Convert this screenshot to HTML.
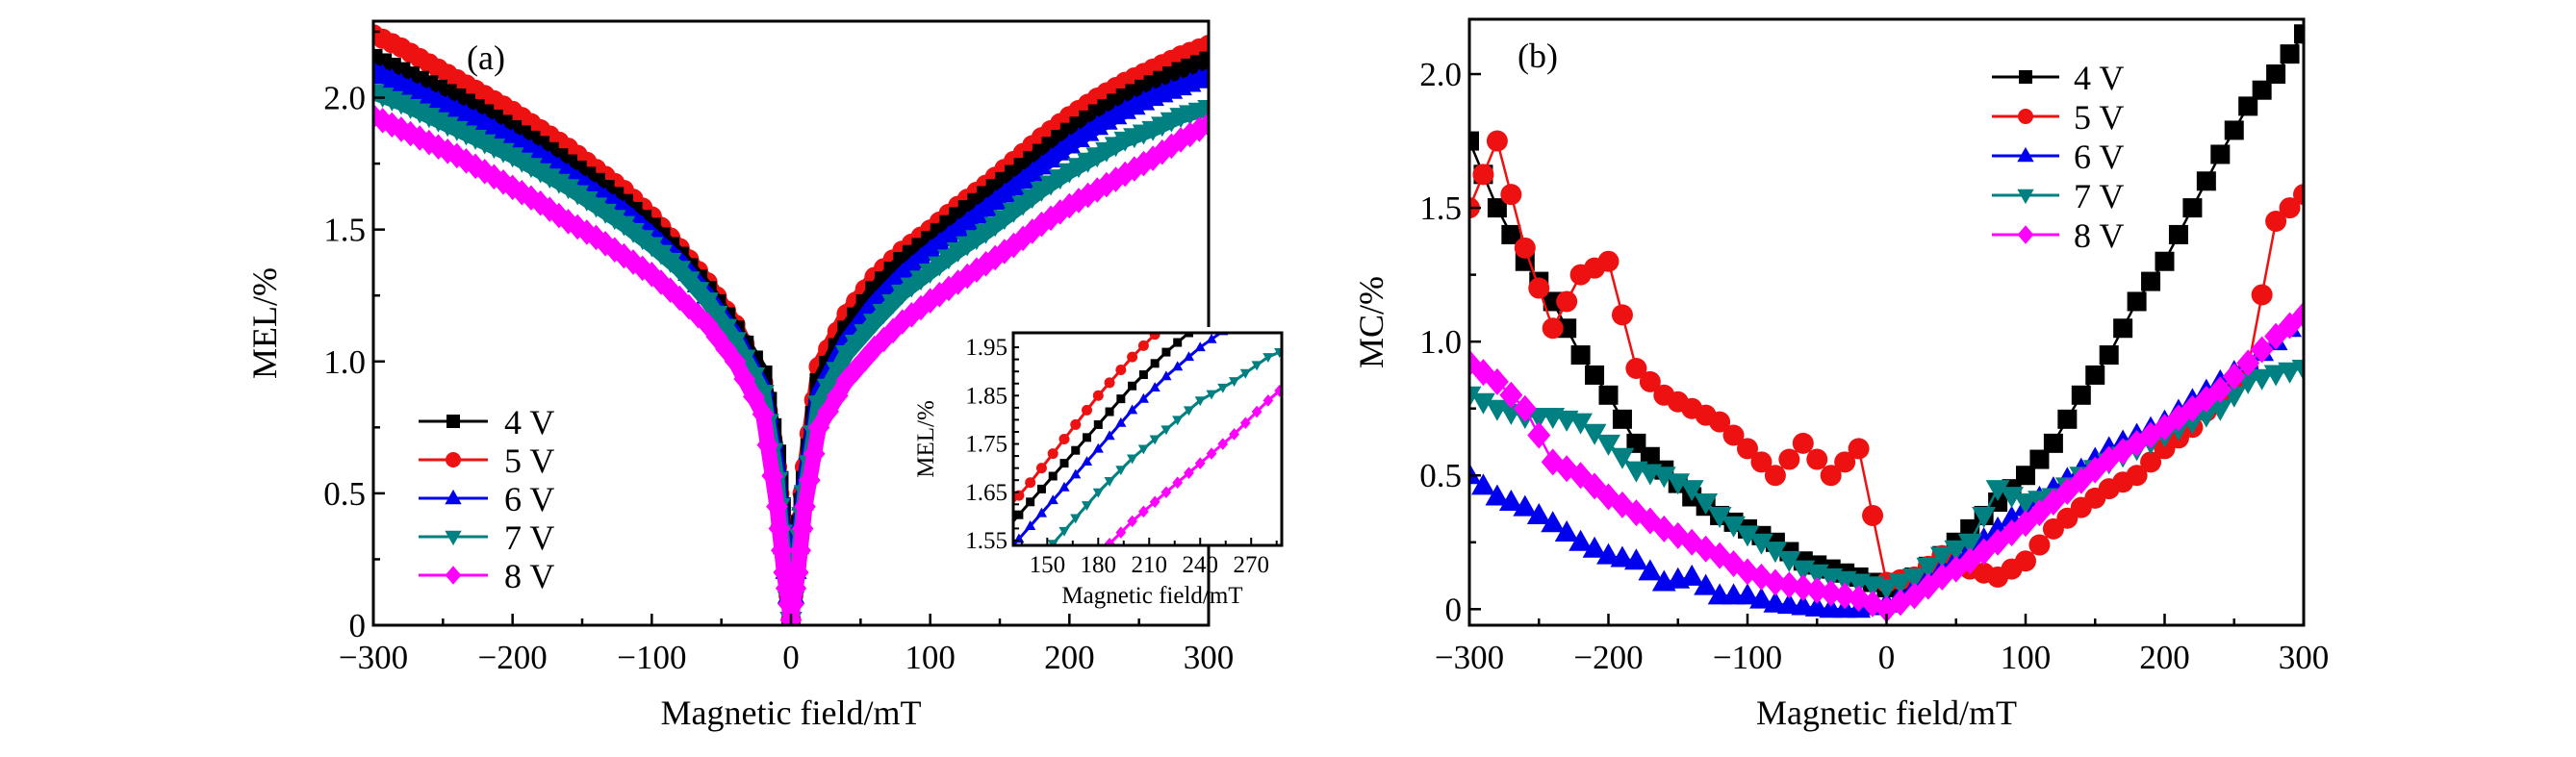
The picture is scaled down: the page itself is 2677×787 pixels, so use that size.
<!DOCTYPE html>
<html><head><meta charset="utf-8">
<style>
html,body{margin:0;padding:0;background:#fff;width:2677px;height:787px;overflow:hidden;}
svg{display:block;overflow:hidden;font-family:"Liberation Serif","DejaVu Serif",serif;}
</style></head>
<body>
<svg id="fig" width="2677" height="787" viewBox="0 0 2677 787" xmlns="http://www.w3.org/2000/svg"></svg>
<script>
// ---- Data ----
const xA = [-300,-280,-260,-240,-220,-200,-180,-160,-140,-120,-100,-80,-60,-40,-20,-10,-5,0,5,10,20,40,60,80,100,120,140,160,180,200,220,240,260,280,300];
const melV4 = [2.15,2.10,2.05,2.00,1.94,1.88,1.82,1.75,1.68,1.60,1.51,1.40,1.27,1.12,0.95,0.65,0.35,0.02,0.3,0.55,0.92,1.12,1.27,1.38,1.46,1.55,1.63,1.71,1.79,1.87,1.94,2.00,2.05,2.10,2.14];
const melV5 = [2.24,2.19,2.13,2.07,2.01,1.95,1.88,1.81,1.73,1.65,1.55,1.43,1.30,1.14,0.92,0.6,0.3,0.02,0.3,0.6,0.98,1.18,1.32,1.42,1.50,1.59,1.67,1.76,1.85,1.93,2.00,2.06,2.11,2.16,2.20];
const melV6 = [2.10,2.05,2.00,1.95,1.90,1.84,1.78,1.71,1.64,1.57,1.48,1.38,1.25,1.10,0.9,0.6,0.3,0.02,0.3,0.55,0.88,1.08,1.22,1.33,1.42,1.50,1.58,1.66,1.74,1.82,1.89,1.95,2.00,2.04,2.08];
const melV7 = [2.02,1.98,1.93,1.88,1.83,1.78,1.72,1.66,1.59,1.52,1.44,1.35,1.23,1.08,0.88,0.55,0.25,0.02,0.25,0.5,0.84,1.03,1.15,1.26,1.34,1.42,1.49,1.57,1.65,1.72,1.78,1.84,1.88,1.93,1.96];
const melV8 = [1.93,1.88,1.83,1.78,1.72,1.66,1.60,1.53,1.47,1.40,1.33,1.24,1.14,1.00,0.8,0.45,0.2,0.02,0.2,0.45,0.75,0.93,1.05,1.15,1.23,1.30,1.37,1.44,1.52,1.59,1.65,1.71,1.77,1.84,1.90];

const xB = [-300,-280,-260,-240,-220,-200,-180,-160,-140,-120,-100,-80,-60,-40,-20,0,20,40,60,80,100,120,140,160,180,200,220,240,260,280,300];
const mcV4 = [1.75,1.5,1.3,1.15,0.95,0.8,0.62,0.52,0.42,0.35,0.3,0.25,0.18,0.15,0.12,0.08,0.12,0.2,0.3,0.4,0.5,0.62,0.8,0.95,1.15,1.3,1.5,1.7,1.88,2.0,2.15];
const mcV5 = [1.5,1.75,1.35,1.05,1.25,1.3,0.9,0.8,0.75,0.7,0.6,0.5,0.62,0.5,0.6,0.1,0.12,0.2,0.15,0.12,0.18,0.3,0.38,0.45,0.5,0.6,0.68,0.8,0.9,1.45,1.55];
const mcV6 = [0.5,0.42,0.38,0.32,0.25,0.2,0.18,0.1,0.12,0.05,0.05,0.02,0.01,0.0,0.0,0.02,0.08,0.15,0.22,0.3,0.38,0.45,0.52,0.6,0.65,0.7,0.78,0.85,0.92,1.0,1.1];
const mcV7 = [0.8,0.75,0.72,0.72,0.7,0.62,0.52,0.5,0.45,0.35,0.28,0.22,0.15,0.12,0.1,0.08,0.12,0.2,0.25,0.45,0.4,0.42,0.5,0.55,0.6,0.65,0.7,0.75,0.85,0.88,0.9];
const mcV8 = [0.92,0.85,0.75,0.55,0.5,0.42,0.36,0.3,0.25,0.2,0.14,0.1,0.08,0.06,0.04,0.0,0.05,0.12,0.18,0.25,0.32,0.4,0.48,0.56,0.62,0.68,0.75,0.82,0.92,1.02,1.1];

const seriesNames = ["4 V","5 V","6 V","7 V","8 V"];
const xTicks = [-300,-200,-100,0,100,200,300];
const xTickLabels = ["\u2212300","\u2212200","\u2212100","0","100","200","300"];
const yTicksA = [0,0.5,1.0,1.5,2.0];
const yTickLabelsA = ["0","0.5","1.0","1.5","2.0"];
const yTicksB = [0,0.5,1.0,1.5,2.0];
const yTickLabelsB = ["0","0.5","1.0","1.5","2.0"];
const insetXTicks = [150,180,210,240,270];
const insetYTicks = [1.55,1.65,1.75,1.85,1.95];
const insetYTickLabels = ["1.55","1.65","1.75","1.85","1.95"];

const colors = ["#000000","#ee1111","#0000ee","#008080","#ff00ff"];
const shapes = ["square","circle","tri-up","tri-down","diamond"];

const NS = "http://www.w3.org/2000/svg";
const svg = document.getElementById("fig");
function el(tag, attrs, parent){
  const e = document.createElementNS(NS, tag);
  for (const k in attrs) e.setAttribute(k, attrs[k]);
  (parent||svg).appendChild(e);
  return e;
}
function marker(g, shape, cx, cy, s, color){
  let m;
  if (shape==="square") m = el("rect",{x:cx-s/2,y:cy-s/2,width:s,height:s,fill:color},g);
  else if (shape==="circle") m = el("circle",{cx:cx,cy:cy,r:s/2+1,fill:color},g);
  else if (shape==="tri-up") m = el("polygon",{points:`${cx},${cy-s*0.65} ${cx-s*0.62},${cy+s*0.45} ${cx+s*0.62},${cy+s*0.45}`,fill:color},g);
  else if (shape==="tri-down") m = el("polygon",{points:`${cx},${cy+s*0.65} ${cx-s*0.62},${cy-s*0.45} ${cx+s*0.62},${cy-s*0.45}`,fill:color},g);
  else m = el("polygon",{points:`${cx},${cy-s*0.7} ${cx+s*0.6},${cy} ${cx},${cy+s*0.7} ${cx-s*0.6},${cy}`,fill:color},g);
  return m;
}
function makeAxes(L,R,T,B,xmin,xmax,ymin,ymax){
  return {
    sx: v => L + (v-xmin)/(xmax-xmin)*(R-L),
    sy: v => B - (v-ymin)/(ymax-ymin)*(B-T)
  };
}
function drawSeries(g, xs, ys, ax, color, shape, lw, ms, sub){
  const pts = xs.map((x,i)=>[ax.sx(x), ax.sy(ys[i])]);
  const line = el("polyline",{points:pts.map(p=>p.join(",")).join(" "),fill:"none",stroke:color,"stroke-width":lw,"stroke-linejoin":"round"},g);
  
  
  for (let i=0;i<pts.length;i++){
    const m = marker(g, shape, pts[i][0], pts[i][1], ms, color);
    
    
    if (i<pts.length-1){
      for (let k=1;k<sub;k++){
        const f=k/sub;
        const mx=pts[i][0]+(pts[i+1][0]-pts[i][0])*f, my=pts[i][1]+(pts[i+1][1]-pts[i][1])*f;
        const m2 = marker(g, shape, mx, my, ms, color);
        
        
      }
    }
  }
}

// ===== Panel A =====
(function(){
  const L=388,R=1256,T=22,B=650;
  const ax = makeAxes(L,R,T,B,-300,300,0,2.29);
  const g = el("g",{});
  
  
  const cpa=el("clipPath",{id:"clipA"},g);
  el("rect",{x:L,y:T,width:R-L,height:B-T},cpa);
  const dg = el("g",{"clip-path":"url(#clipA)"},g);
  
  
  const data=[melV4,melV5,melV6,melV7,melV8];
  [1,0,2,3,4].forEach(i=>drawSeries(dg,xA,data[i],ax,colors[i],shapes[i],16,19,3));
  const fr = el("rect",{x:L,y:T,width:R-L,height:B-T,fill:"none",stroke:"#000","stroke-width":3},g);
   
  for (let v=-300; v<=300; v+=50){
    const major = v%100===0;
    el("line",{x1:ax.sx(v),x2:ax.sx(v),y1:B,y2:B-(major?12:7),stroke:"#000","stroke-width":2.5},g);
  }
  xTicks.forEach((v,i)=>{
    const t=el("text",{x:ax.sx(v),y:695,"text-anchor":"middle","font-size":35},g);
    t.textContent=xTickLabels[i];
     
  });
  for (let v=0; v<=2.25; v+=0.25){
    const major = Math.abs(v*2-Math.round(v*2))<1e-6;
    el("line",{x1:L,x2:L+(major?12:7),y1:ax.sy(v),y2:ax.sy(v),stroke:"#000","stroke-width":2.5},g);
  }
  yTicksA.forEach((v,i)=>{
    const t=el("text",{x:L-8,y:ax.sy(v)+12,"text-anchor":"end","font-size":35},g);
    t.textContent=yTickLabelsA[i];
     
  });
  const xt=el("text",{x:(L+R)/2,y:753,"text-anchor":"middle","font-size":36},g);
  xt.textContent="Magnetic field/mT";  
  const yt=el("text",{x:0,y:0,"text-anchor":"middle","font-size":36,transform:`translate(287,${(T+B)/2}) rotate(-90)`},g);
  yt.textContent="MEL/%";  
  const pl=el("text",{x:485,y:72,"font-size":36},g);
  pl.textContent="(a)";  
  const lg=el("g",{},g);  
  seriesNames.forEach((n,i)=>{
    const y=438+i*40;
    const e=el("g",{},lg);  
    el("line",{x1:435,x2:507,y1:y,y2:y,stroke:colors[i],"stroke-width":3},e);
    marker(e,shapes[i],471,y,14,colors[i]);
    const t=el("text",{x:524,y:y+13,"font-size":36},e); t.textContent=n;
  });
  // inset
  const iL=1053,iR=1332,iT=346,iB=567;
  const ia = makeAxes(iL,iR,iT,iB,130,288,1.54,1.98);
  const ig=el("g",{},g);  
  el("rect",{x:iL-100,y:iT-6,width:iR-iL+110,height:iB-iT+75,fill:"#fff"},ig);
  const cp=el("clipPath",{id:"clipI"},ig);
  el("rect",{x:iL,y:iT,width:iR-iL,height:iB-iT},cp);
  const idg=el("g",{"clip-path":"url(#clipI)"},ig);
  [1,0,2,3,4].forEach(i=>drawSeries(idg,xA,data[i],ia,colors[i],shapes[i],3,9,3));
  el("rect",{x:iL,y:iT,width:iR-iL,height:iB-iT,fill:"none",stroke:"#000","stroke-width":3},ig);
  el("line",{x1:R,x2:R,y1:iB,y2:B,stroke:"#000","stroke-width":3},ig);
  for (let v=135; v<=285; v+=15){
    const major = (v-150)%30===0;
    el("line",{x1:ia.sx(v),x2:ia.sx(v),y1:iB,y2:iB-(major?8:5),stroke:"#000","stroke-width":2},ig);
  }
  insetXTicks.forEach(v=>{
    const t=el("text",{x:ia.sx(v),y:595,"text-anchor":"middle","font-size":25},ig); t.textContent=String(v);
     
  });
  for (let v=1.55; v<=1.96; v+=0.025){
    el("line",{x1:iL,x2:iL+6,y1:ia.sy(v),y2:ia.sy(v),stroke:"#000","stroke-width":2},ig);
  }
  insetYTicks.forEach((v,i)=>{
    const t=el("text",{x:iL-6,y:ia.sy(v)+8,"text-anchor":"end","font-size":25},ig); t.textContent=insetYTickLabels[i];
     
  });
  const ixt=el("text",{x:(iL+iR)/2+5,y:627,"text-anchor":"middle","font-size":25},ig);
  ixt.textContent="Magnetic field/mT";  
  const iyt=el("text",{x:0,y:0,"text-anchor":"middle","font-size":25,transform:`translate(970,${(iT+iB)/2}) rotate(-90)`},ig);
  iyt.textContent="MEL/%";  
})();

// ===== Panel B =====
(function(){
  const L=1527,R=2394,T=20,B=650;
  const ax = makeAxes(L,R,T,B,-300,300,-0.06,2.205);
  const g = el("g",{});
  
  
  const cp=el("clipPath",{id:"clipB"},g);
  el("rect",{x:L,y:T,width:R-L,height:B-T},cp);
  const dg = el("g",{"clip-path":"url(#clipB)"},g);
  
  
  const data=[mcV4,mcV5,mcV6,mcV7,mcV8];
  [0,1,2,3,4].forEach(i=>drawSeries(dg,xB,data[i],ax,colors[i],shapes[i],2.5,20,2));
  const fr=el("rect",{x:L,y:T,width:R-L,height:B-T,fill:"none",stroke:"#000","stroke-width":3},g);
   
  for (let v=-300; v<=300; v+=50){
    const major = v%100===0;
    el("line",{x1:ax.sx(v),x2:ax.sx(v),y1:B,y2:B-(major?12:7),stroke:"#000","stroke-width":2.5},g);
  }
  xTicks.forEach((v,i)=>{
    const t=el("text",{x:ax.sx(v),y:695,"text-anchor":"middle","font-size":35},g);
    t.textContent=xTickLabels[i];
     
  });
  for (let v=0; v<=2.01; v+=0.25){
    const major = Math.abs(v*2-Math.round(v*2))<1e-6;
    el("line",{x1:L,x2:L+(major?12:7),y1:ax.sy(v),y2:ax.sy(v),stroke:"#000","stroke-width":2.5},g);
  }
  yTicksB.forEach((v,i)=>{
    const t=el("text",{x:L-8,y:ax.sy(v)+12,"text-anchor":"end","font-size":35},g);
    t.textContent=yTickLabelsB[i];
     
  });
  const xt=el("text",{x:(L+R)/2,y:753,"text-anchor":"middle","font-size":36},g);
  xt.textContent="Magnetic field/mT";  
  const yt=el("text",{x:0,y:0,"text-anchor":"middle","font-size":36,transform:`translate(1437,${(T+B)/2}) rotate(-90)`},g);
  yt.textContent="MC/%";  
  const pl=el("text",{x:1577,y:70,"font-size":36},g);
  pl.textContent="(b)";  
  const lg=el("g",{},g);  
  seriesNames.forEach((n,i)=>{
    const y=80+i*41;
    const e=el("g",{},lg);  
    el("line",{x1:2070,x2:2140,y1:y,y2:y,stroke:colors[i],"stroke-width":3},e);
    marker(e,shapes[i],2105,y,14,colors[i]);
    const t=el("text",{x:2155,y:y+13,"font-size":36},e); t.textContent=n;
  });
})();
</script>
</body></html>
